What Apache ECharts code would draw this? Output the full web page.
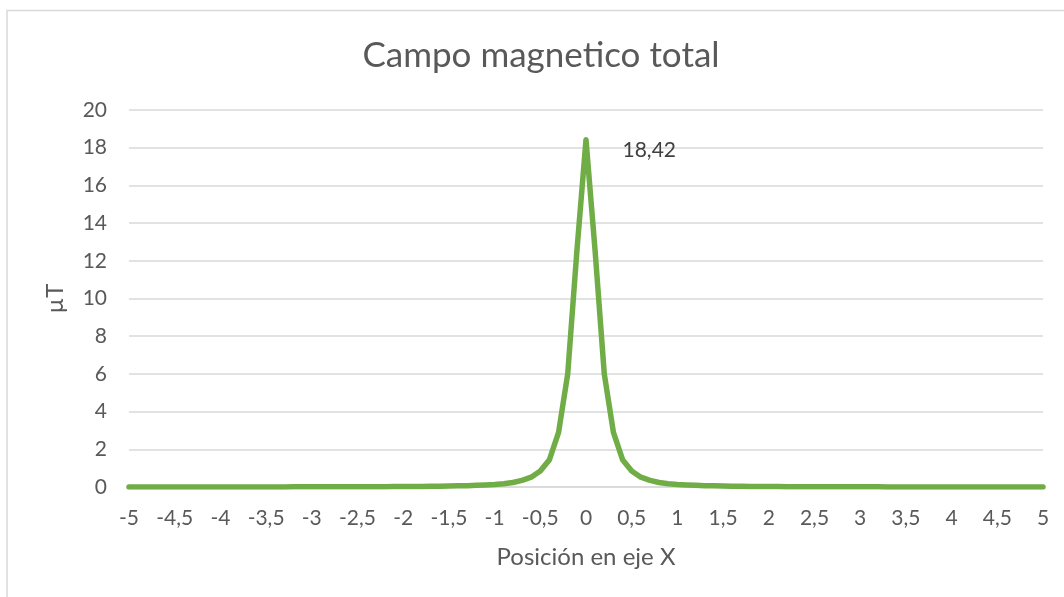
<!DOCTYPE html>
<html>
<head>
<meta charset="utf-8">
<script src="https://cdn.jsdelivr.net/npm/echarts@6/dist/echarts.min.js"></script>
<style>
html,body{margin:0;padding:0;background:#fff;}
#chart{width:1064px;height:597px;}
</style>
</head>
<body>
<div id="chart"></div>
<script>
// Position en eje X (step 0.1)
const xPos = [
 -5,-4.9,-4.8,-4.7,-4.6,-4.5,-4.4,-4.3,-4.2,-4.1,
 -4,-3.9,-3.8,-3.7,-3.6,-3.5,-3.4,-3.3,-3.2,-3.1,
 -3,-2.9,-2.8,-2.7,-2.6,-2.5,-2.4,-2.3,-2.2,-2.1,
 -2,-1.9,-1.8,-1.7,-1.6,-1.5,-1.4,-1.3,-1.2,-1.1,
 -1,-0.9,-0.8,-0.7,-0.6,-0.5,-0.4,-0.3,-0.2,-0.1,
 0,
 0.1,0.2,0.3,0.4,0.5,0.6,0.7,0.8,0.9,1,
 1.1,1.2,1.3,1.4,1.5,1.6,1.7,1.8,1.9,2,
 2.1,2.2,2.3,2.4,2.5,2.6,2.7,2.8,2.9,3,
 3.1,3.2,3.3,3.4,3.5,3.6,3.7,3.8,3.9,4,
 4.1,4.2,4.3,4.4,4.5,4.6,4.7,4.8,4.9,5
];
// Campo magnetico total (µT)
const campo = [
 0.002,0.002,0.002,0.002,0.002,0.003,0.003,0.003,0.003,0.003,
 0.004,0.004,0.004,0.005,0.005,0.005,0.006,0.006,0.007,0.008,
 0.008,0.009,0.010,0.011,0.012,0.013,0.015,0.017,0.019,0.021,
 0.024,0.028,0.032,0.037,0.043,0.050,0.060,0.072,0.088,0.11,
 0.13,0.17,0.24,0.35,0.52,0.85,1.45,2.9,6.0,12.5,
 18.42,
 12.5,6.0,2.9,1.45,0.85,0.52,0.35,0.24,0.17,0.13,
 0.11,0.088,0.072,0.060,0.050,0.043,0.037,0.032,0.028,0.024,
 0.021,0.019,0.017,0.015,0.013,0.012,0.011,0.010,0.009,0.008,
 0.008,0.007,0.006,0.006,0.005,0.005,0.005,0.004,0.004,0.004,
 0.003,0.003,0.003,0.003,0.003,0.002,0.002,0.002,0.002,0.002
];
const yTicks = [0,2,4,6,8,10,12,14,16,18,20];
const peakLabel = '18,42';

const FONT = 'Lato, "Open Sans", sans-serif';
const data = xPos.map((x, i) => {
  const item = { value: [x, campo[i]] };
  if (campo[i] === 18.42) {
    item.label = {
      show: true, position: 'right', offset: [31, 10],
      formatter: peakLabel, color: '#404040', fontSize: 21, fontFamily: FONT
    };
  }
  return item;
});

const chart = echarts.init(document.getElementById('chart'));
chart.setOption({
  animation: false,
  backgroundColor: '#fff',
  title: {
    text: 'Campo magnetico total',
    left: 536, top: 33, textAlign: 'center',
    textStyle: { color: '#595959', fontSize: 35, fontWeight: 'normal', fontFamily: FONT }
  },
  graphic: [{
    type: 'rect', silent: true, z: -1,
    shape: { x: 7, y: 10.5, width: 1100, height: 620 },
    style: { fill: 'none', stroke: '#d9d9d9', lineWidth: 1.5 }
  }],
  grid: { left: 129, right: 21, top: 110, bottom: 110, containLabel: false },
  xAxis: {
    type: 'value', min: -5, max: 5, interval: 0.5,
    name: 'Posición en eje X', nameLocation: 'middle', nameGap: 58,
    nameTextStyle: { color: '#595959', fontSize: 24, fontFamily: FONT },
    axisLine: { show: true, lineStyle: { color: '#d9d9d9', width: 1.5 } },
    axisTick: { show: false },
    splitLine: { show: false },
    axisLabel: {
      color: '#595959', fontSize: 21, fontFamily: FONT, margin: 21,
      formatter: v => String(Math.round(v * 10) / 10).replace('.', ',')
    }
  },
  yAxis: {
    type: 'value', min: yTicks[0], max: yTicks[yTicks.length - 1], interval: 2,
    name: 'µT', nameLocation: 'middle', nameGap: 62, nameRotate: 90,
    nameTextStyle: { color: '#595959', fontSize: 24, fontFamily: FONT },
    axisLine: { show: false },
    axisTick: { show: false },
    splitLine: { show: true, lineStyle: { color: '#d9d9d9', width: 1.5 } },
    axisLabel: { color: '#595959', fontSize: 21, fontFamily: FONT, margin: 22 }
  },
  series: [{
    type: 'line',
    data: data,
    showSymbol: true,
    showAllSymbol: true,
    symbol: 'circle',
    symbolSize: 1,
    itemStyle: { color: 'rgba(0,0,0,0)' },
    lineStyle: { color: '#70ad47', width: 5.5, cap: 'round', join: 'round' },
    smooth: false,
    z: 3
  }]
});
</script>
</body>
</html>
